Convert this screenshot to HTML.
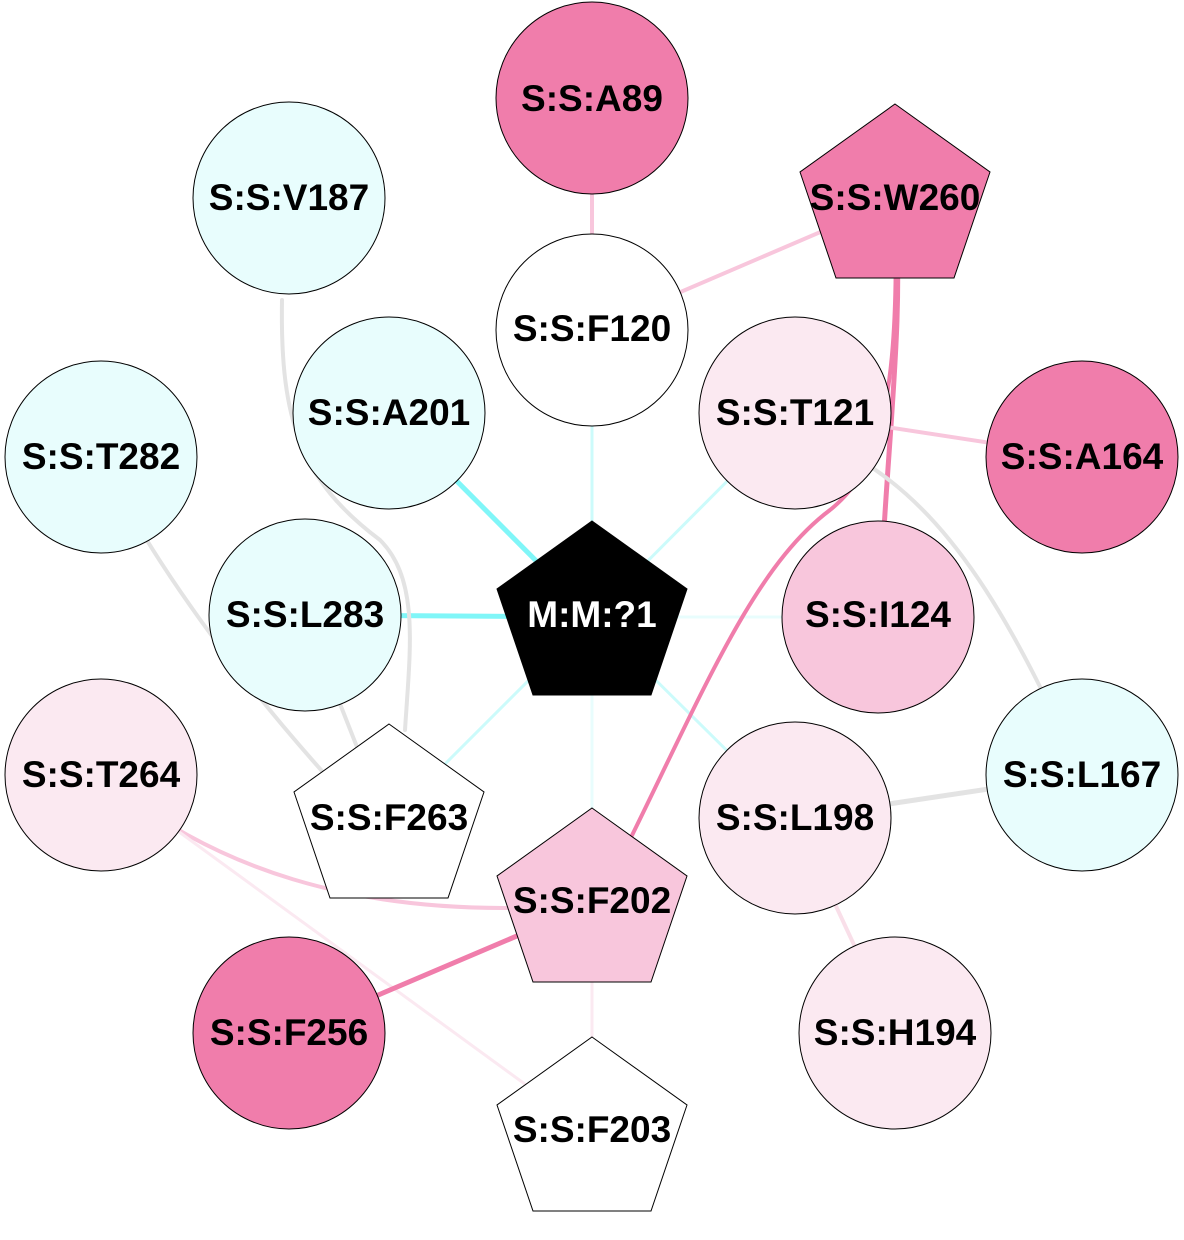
<!DOCTYPE html>
<html><head><style>body{margin:0;background:#fff}</style></head><body>
<svg width="1184" height="1235" xmlns="http://www.w3.org/2000/svg" font-family="Liberation Sans, sans-serif" font-weight="bold" font-size="37">
<rect width="1184" height="1235" fill="#fff"/>
<g fill="none" stroke-linecap="round">
<path d="M592,617 L389,413" stroke="#80f6f8" stroke-width="5"/>
<path d="M592,617 L305,615" stroke="#80f6f8" stroke-width="5"/>
<path d="M592,617 L592,330" stroke="#ccfbfb" stroke-width="3"/>
<path d="M592,617 L795,413" stroke="#ccfbfb" stroke-width="3"/>
<path d="M592,617 L878,617" stroke="#e8fdfd" stroke-width="3"/>
<path d="M592,617 L795,818" stroke="#ccfbfb" stroke-width="3"/>
<path d="M592,617 L389,820" stroke="#ccfbfb" stroke-width="3"/>
<path d="M592,617 L592,904" stroke="#e8fdfd" stroke-width="3"/>
<path d="M592,98 L592,330" stroke="#f8c6dc" stroke-width="4"/>
<path d="M592,330 L895,200" stroke="#f8c6dc" stroke-width="4"/>
<path d="M895,200 C905,330 885,450 880,617" stroke="#f07dab" stroke-width="5"/>
<path d="M895,200 C900,400 880,470 830,510 C750,570 700,700 610,880" stroke="#f07dab" stroke-width="4"/>
<path d="M795,413 L1082,457" stroke="#f8c6dc" stroke-width="4"/>
<path d="M860,460 C960,520 1020,640 1082,775" stroke="#e3e3e3" stroke-width="4"/>
<path d="M795,818 L1082,775" stroke="#e3e3e3" stroke-width="5"/>
<path d="M795,818 L895,1033" stroke="#f9dfe9" stroke-width="4"/>
<path d="M282,300 C280,420 300,480 380,540 C420,580 410,650 405,730" stroke="#e3e3e3" stroke-width="4"/>
<path d="M101,457 C150,560 240,680 330,780" stroke="#e3e3e3" stroke-width="4"/>
<path d="M305,615 L370,780" stroke="#e3e3e3" stroke-width="4"/>
<path d="M101,775 C200,860 350,925 592,904" stroke="#f8c6dc" stroke-width="4"/>
<path d="M101,775 L592,1133" stroke="#fbe9f1" stroke-width="3"/>
<path d="M289,1033 L592,904" stroke="#f07dab" stroke-width="5"/>
<path d="M592,904 L592,1133" stroke="#fbe9f1" stroke-width="3"/>
</g>
<g stroke="#000" stroke-width="1">
<circle cx="592" cy="98" r="96" fill="#f07dab"/>
<circle cx="289" cy="198" r="96" fill="#e8fdfd"/>
<polygon points="895,104 990,172 954,278 836,278 800,172" fill="#f07dab"/>
<circle cx="592" cy="330" r="96" fill="#fff"/>
<circle cx="389" cy="413" r="96" fill="#e8fdfd"/>
<circle cx="795" cy="413" r="96" fill="#fbe9f1"/>
<circle cx="101" cy="457" r="96" fill="#e8fdfd"/>
<circle cx="1082" cy="457" r="96" fill="#f07dab"/>
<circle cx="305" cy="615" r="96" fill="#e8fdfd"/>
<polygon points="592,521 687,589 651,695 533,695 497,589" fill="#000"/>
<circle cx="878" cy="617" r="96" fill="#f8c6dc"/>
<circle cx="101" cy="775" r="96" fill="#fbe9f1"/>
<polygon points="389,724 484,792 448,898 330,898 294,792" fill="#fff"/>
<circle cx="795" cy="818" r="96" fill="#fbe9f1"/>
<circle cx="1082" cy="775" r="96" fill="#e8fdfd"/>
<polygon points="592,808 687,876 651,982 533,982 497,876" fill="#f8c6dc"/>
<circle cx="289" cy="1033" r="96" fill="#f07dab"/>
<circle cx="895" cy="1033" r="96" fill="#fbe9f1"/>
<polygon points="592,1037 687,1105 651,1211 533,1211 497,1105" fill="#fff"/>
</g>
<g text-anchor="middle" fill="#000">
<text x="592" y="111">S:S:A89</text>
<text x="289" y="210">S:S:V187</text>
<text x="895" y="210">S:S:W260</text>
<text x="592" y="341">S:S:F120</text>
<text x="389" y="425">S:S:A201</text>
<text x="795" y="425">S:S:T121</text>
<text x="101" y="469">S:S:T282</text>
<text x="1082" y="469">S:S:A164</text>
<text x="305" y="627">S:S:L283</text>
<text x="592" y="627" fill="#fff">M:M:?1</text>
<text x="878" y="627">S:S:I124</text>
<text x="101" y="787">S:S:T264</text>
<text x="389" y="830">S:S:F263</text>
<text x="795" y="830">S:S:L198</text>
<text x="1082" y="787">S:S:L167</text>
<text x="592" y="913">S:S:F202</text>
<text x="289" y="1045">S:S:F256</text>
<text x="895" y="1045">S:S:H194</text>
<text x="592" y="1142">S:S:F203</text>
</g>
</svg>
</body></html>
